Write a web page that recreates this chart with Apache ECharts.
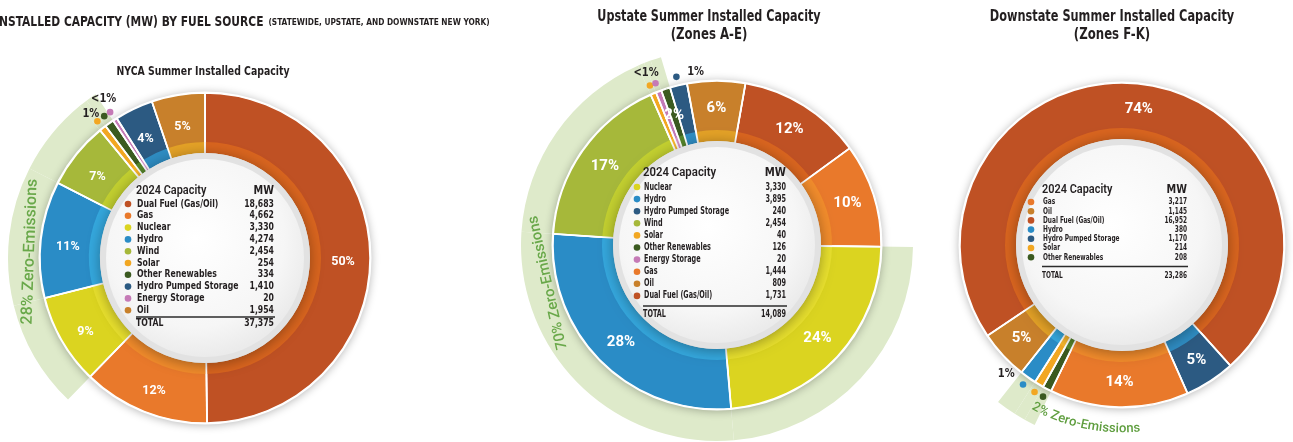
<!DOCTYPE html>
<html>
<head>
<meta charset="utf-8">
<style>
  html, body { margin: 0; padding: 0; background: #fff; }
  #main { width: 1293px; height: 442px; }
</style>
<script src="https://cdn.jsdelivr.net/npm/echarts@6/dist/echarts.min.js"></script>
</head>
<body>
<div id="main"></div>
<script>
// ---- values ----
// statewide (legend order)
const nycaFuels = ['Dual Fuel (Gas/Oil)', 'Gas', 'Nuclear', 'Hydro', 'Wind', 'Solar', 'Other Renewables', 'Hydro Pumped Storage', 'Energy Storage', 'Oil'];
const nycaMW = [18683, 4662, 3330, 4274, 2454, 254, 334, 1410, 20, 1954];
const nycaPct = ['50%', '12%', '9%', '11%', '7%', '1%', '1%', '4%', '<1%', '5%'];
// order of the slices round the ring, clockwise
const nycaRing = ['Dual Fuel (Gas/Oil)', 'Gas', 'Nuclear', 'Hydro', 'Wind', 'Solar', 'Other Renewables', 'Energy Storage', 'Hydro Pumped Storage', 'Oil'];

// upstate, zones A-E
const upFuels = ['Nuclear', 'Hydro', 'Hydro Pumped Storage', 'Wind', 'Solar', 'Other Renewables', 'Energy Storage', 'Gas', 'Oil', 'Dual Fuel (Gas/Oil)'];
const upMW = [3330, 3895, 240, 2454, 40, 126, 20, 1444, 809, 1731];
const upPct = ['24%', '28%', '1%', '17%', '<1%', '2%', '<1%', '10%', '6%', '12%'];
const upRing = ['Dual Fuel (Gas/Oil)', 'Gas', 'Nuclear', 'Hydro', 'Wind', 'Solar', 'Energy Storage', 'Other Renewables', 'Hydro Pumped Storage', 'Oil'];

// downstate, zones F-K
const downFuels = ['Gas', 'Oil', 'Dual Fuel (Gas/Oil)', 'Hydro', 'Hydro Pumped Storage', 'Solar', 'Other Renewables'];
const downMW = [3217, 1145, 16952, 380, 1170, 214, 208];
const downPct = ['14%', '5%', '74%', '1%', '5%', '', ''];
const downRing = ['Dual Fuel (Gas/Oil)', 'Hydro Pumped Storage', 'Gas', 'Other Renewables', 'Solar', 'Hydro', 'Oil'];

const zeroFuels = ['Nuclear', 'Hydro', 'Wind', 'Solar', 'Other Renewables'];
const zeroLabels = ['28% Zero-Emissions', '70% Zero-Emissions', '2% Zero-Emissions'];
const chartTitles = [
  ['NYCA Summer Installed Capacity'],
  ['Upstate Summer Installed Capacity', '(Zones A-E)'],
  ['Downstate Summer Installed Capacity', '(Zones F-K)']
];
const mainTitle = 'INSTALLED CAPACITY (MW) BY FUEL SOURCE';
const mainSubtitle = '(STATEWIDE, UPSTATE, AND DOWNSTATE NEW YORK)';

// ---- colours ----
const fuelColor = {
  'Dual Fuel (Gas/Oil)': '#bf5124',
  'Gas': '#e9792b',
  'Nuclear': '#dbd420',
  'Hydro': '#2a8cc6',
  'Wind': '#a6b83a',
  'Solar': '#f2a722',
  'Other Renewables': '#3b5a20',
  'Hydro Pumped Storage': '#2c5a82',
  'Energy Storage': '#c57ab6',
  'Oil': '#c8802b'
};
const fuelShade = {
  'Dual Fuel (Gas/Oil)': '#d9651f',
  'Gas': '#f28c2c',
  'Nuclear': '#e8e02e',
  'Hydro': '#35a8de',
  'Wind': '#c3d030',
  'Solar': '#f8b62c',
  'Other Renewables': '#56852b',
  'Hydro Pumped Storage': '#2f8dc3',
  'Energy Storage': '#d691c8',
  'Oil': '#e4a227'
};
const BAND = '#deeaca';
const INK = '#231f20';
const NARROW = '"Liberation Sans Narrow", "Arial Narrow", "DejaVu Sans Condensed", sans-serif';
const SANS = 'Roboto, "Noto Sans", sans-serif';
const COND = 0.85;

const sets = [
  {
    fuels: nycaFuels, mw: nycaMW, pct: nycaPct, ring: nycaRing,
    dots: ['Solar', 'Other Renewables', 'Energy Storage'],
    notes: [
      {fuels: ['Solar', 'Other Renewables'], place: 'above', along: -5, out: 19},
      {fuels: ['Energy Storage'], place: 'above', along: 2, out: 24}
    ],
    center: [205, 258], R: 165, r0: 105, band: 197, start: 90, minAngle: 1.5, labelSize: 12.5, labelOffset: [0, 5],
    title: {x: 203, y: [72], size: [12.5], cond: 0.83},
    table: {x: 136, dotX: 128, right: 274, headY: 191, rowY: 204, step: 11.8, lineY: 317, totalY: 323.5, head: 12, row: 10, cond: 0.86},
    zero: {frac: 0.47, off: 10, size: 16, curve: false, color: '#69a84a'}
  },
  {
    fuels: upFuels, mw: upMW, pct: upPct, ring: upRing,
    dots: ['Solar', 'Energy Storage', 'Hydro Pumped Storage'],
    notes: [
      {fuels: ['Solar', 'Energy Storage'], place: 'above', along: -2, out: 22},
      {fuels: ['Hydro Pumped Storage'], place: 'side', along: 20, out: 11}
    ],
    center: [717, 245], R: 164, r0: 104, band: 196, start: 80, minAngle: 2, labelSize: 15, labelOffset: [0, 0],
    title: {x: 709, y: [17, 35], size: [15, 15], cond: 0.83},
    table: {x: 643, dotX: 637, right: 786, headY: 173, rowY: 187, step: 12.1, lineY: 306, totalY: 314, head: 12.5, row: 10, cond: 0.72},
    zero: {frac: 0.66, off: 9, size: 15, curve: false, color: '#69a84a'}
  },
  {
    fuels: downFuels, mw: downMW, pct: downPct, ring: downRing,
    dots: ['Hydro', 'Solar', 'Other Renewables'],
    notes: [{fuels: ['Hydro'], place: 'side', along: 20, out: 11}],
    center: [1122, 245], R: 162, r0: 106, band: 200, start: -146, minAngle: 1.5, labelSize: 15, labelOffset: [0, 0],
    title: {x: 1112, y: [17, 35], size: [15, 15], cond: 0.84},
    table: {x: 1042, dotX: 1031, right: 1187, headY: 190, rowY: 202, step: 9.2, lineY: 266.5, totalY: 276, head: 12, row: 9, cond: 0.72},
    zero: {frac: 0.25, off: 22, size: 13, curve: true, color: '#5f9e3f'}
  }
];

const chart = echarts.init(document.getElementById('main'));
const fmt = n => n.toLocaleString('en-US');

const series = [];
sets.forEach((s, ci) => {
  const ringData = s.ring.map(name => {
    const i = s.fuels.indexOf(name);
    return {name: name, value: s.mw[i], pct: s.pct[i]};
  });
  const zIdx = ringData.map((d, i) => zeroFuels.indexOf(d.name) >= 0 ? i : -1).filter(i => i >= 0);
  s.z0 = Math.min.apply(null, zIdx);
  s.z1 = Math.max.apply(null, zIdx);
  const common = {
    type: 'pie', center: s.center, startAngle: s.start, minAngle: s.minAngle,
    clockwise: true, avoidLabelOverlap: false, emphasis: {disabled: true},
    labelLine: {show: false}, animation: false
  };
  // light green zero-emissions band behind the ring
  series.push(Object.assign({}, common, {
    radius: [s.R - 4, s.band], z: 1, silent: true, label: {show: false},
    data: ringData.map((d, i) => ({
      name: d.name, value: d.value,
      itemStyle: {color: (i >= s.z0 && i <= s.z1) ? BAND : 'rgba(0,0,0,0)'}
    }))
  }));
  // main ring
  series.push(Object.assign({}, common, {
    radius: [s.r0, s.R], z: 3,
    itemStyle: {borderColor: '#fff', borderWidth: 1.5},
    label: {
      show: true, position: 'inside', color: '#fff', fontSize: s.labelSize, offset: s.labelOffset,
      fontWeight: 'bold', fontFamily: SANS, formatter: p => p.data.pct
    },
    data: ringData.map(d => ({
      name: d.name, value: d.value, pct: d.pct,
      itemStyle: {color: fuelColor[d.name]},
      label: {show: s.dots.indexOf(d.name) < 0 && d.pct !== ''}
    }))
  }));
  // brighter inner edge of the ring
  series.push(Object.assign({}, common, {
    radius: [s.r0, s.r0 + 11], z: 4, silent: true, label: {show: false},
    data: ringData.map(d => ({name: d.name, value: d.value, itemStyle: {color: fuelShade[d.name]}}))
  }));
});

chart.setOption({animation: false, series: series});

// ---- decorations placed from the pie layout ----
const measure = document.createElement('canvas').getContext('2d');
const graphics = [];
const model = chart.getModel();

function polar(c, r, a) {
  return [c[0] + r * Math.cos(a), c[1] + r * Math.sin(a)];
}
function text(x, y, str, font, fill, align, valign, extra) {
  return Object.assign({
    type: 'text', x: x, y: y, z: 6, silent: true,
    style: {
      text: str, font: font, fill: fill,
      align: align || 'left', textAlign: align || 'left',
      verticalAlign: valign || 'middle', textVerticalAlign: valign || 'middle'
    }
  }, extra || {});
}

// main heading, cut at the left edge like the source
const mainFont = 'bold 14px ' + NARROW;
measure.font = mainFont;
const mainX = -measure.measureText('I').width * COND - 1;
const mainW = measure.measureText(mainTitle).width * COND;
graphics.push(text(mainX, 22, mainTitle, mainFont, INK, 'left', 'middle', {scaleX: COND}));
graphics.push(text(mainX + mainW + 5, 22.5, mainSubtitle, 'bold 8.5px ' + NARROW, INK, 'left', 'middle', {scaleX: 0.97}));

sets.forEach((s, ci) => {
  const c = s.center;
  const data = model.getSeriesByIndex(ci * 3 + 1).getData();
  const lay = name => data.getItemLayout(data.indexOfName(name));

  // chart titles
  chartTitles[ci].forEach((t, k) => {
    graphics.push(text(s.title.x, s.title.y[k], t, 'bold ' + s.title.size[k] + 'px ' + NARROW, INK, 'center', 'middle',
      {scaleX: k === 0 ? s.title.cond : 0.87}));
  });

  // soft shadow round the ring
  graphics.push({
    type: 'circle', z: 2, silent: true, shape: {cx: c[0], cy: c[1], r: s.R + 1.5},
    style: {fill: '#fff', shadowBlur: 9, shadowColor: 'rgba(0,0,0,0.28)', shadowOffsetY: 1}
  });
  // white separators across ring and inner edge
  data.each(i => {
    const L = data.getItemLayout(i);
    const p1 = polar(c, s.r0 - 1, L.startAngle);
    const p2 = polar(c, s.R + 0.5, L.startAngle);
    graphics.push({
      type: 'line', z: 4.5, silent: true,
      shape: {x1: p1[0], y1: p1[1], x2: p2[0], y2: p2[1]},
      style: {stroke: '#fff', lineWidth: 1.8}
    });
  });
  // centre disc
  graphics.push({
    type: 'circle', z: 5, silent: true, shape: {cx: c[0], cy: c[1], r: s.r0},
    style: {fill: '#e2e2e2', shadowBlur: 14, shadowColor: 'rgba(0,0,0,0.35)', shadowOffsetY: 2}
  });
  graphics.push({
    type: 'circle', z: 5, silent: true, shape: {cx: c[0], cy: c[1], r: s.r0 - 6},
    style: {
      fill: {
        type: 'radial', x: 0.45, y: 0.4, r: 0.6,
        colorStops: [{offset: 0, color: '#ffffff'}, {offset: 0.75, color: '#f6f6f6'}, {offset: 1, color: '#ebebeb'}]
      }
    }
  });

  // table inside the disc
  const t = s.table;
  const headFont = '600 ' + t.head + 'px ' + SANS;
  const rowFont = 'bold ' + t.row + 'px ' + NARROW;
  const sx = {scaleX: t.cond};
  graphics.push(text(t.x, t.headY, '2024 Capacity', headFont, INK, 'left', 'middle', {scaleX: 0.91}));
  graphics.push(text(t.right, t.headY, 'MW', 'bold ' + t.head + 'px ' + NARROW, INK, 'right', 'middle', {scaleX: 0.9}));
  s.fuels.forEach((f, i) => {
    const y = t.rowY + i * t.step;
    graphics.push({type: 'circle', z: 6, silent: true, shape: {cx: t.dotX, cy: y, r: 3.3}, style: {fill: fuelColor[f]}});
    graphics.push(text(t.x + 1, y, f, rowFont, INK, 'left', 'middle', sx));
    graphics.push(text(t.right, y, fmt(s.mw[i]), rowFont, INK, 'right', 'middle', sx));
  });
  graphics.push({
    type: 'line', z: 6, silent: true,
    shape: {x1: t.x, y1: t.lineY, x2: t.right + 1, y2: t.lineY},
    style: {stroke: '#2b2b2b', lineWidth: 1.3}
  });
  const total = s.mw.reduce((a, b) => a + b, 0);
  graphics.push(text(t.x, t.totalY, 'TOTAL', rowFont, INK, 'left', 'middle', sx));
  graphics.push(text(t.right, t.totalY, fmt(total), rowFont, INK, 'right', 'middle', sx));

  // dots beside the thin slices
  const dotR = s.R + 9;
  s.dots.forEach(f => {
    const L = lay(f);
    const p = polar(c, dotR, (L.startAngle + L.endAngle) / 2);
    graphics.push({type: 'circle', z: 6, silent: true, shape: {cx: p[0], cy: p[1], r: 3.3}, style: {fill: fuelColor[f]}});
  });
  s.notes.forEach(n => {
    const mids = n.fuels.map(f => { const L = lay(f); return (L.startAngle + L.endAngle) / 2; });
    const r = s.R + n.out;
    const a = mids.reduce((x, y) => x + y, 0) / mids.length + n.along / r;
    const str = s.pct[s.fuels.indexOf(n.fuels[0])];
    const p = polar(c, r, a);
    graphics.push(text(p[0], p[1], str, 'bold 13px ' + NARROW, INK, 'center', 'middle', {scaleX: COND}));
  });

  // zero-emissions caption
  const a0 = data.getItemLayout(s.z0).startAngle;
  const a1 = data.getItemLayout(s.z1).endAngle;
  const z = s.zero;
  const zFont = '500 ' + z.size + 'px ' + SANS;
  const rz = s.R + z.off;
  let a = a0 + (a1 - a0) * z.frac;
  if (!z.curve) {
    const p = polar(c, rz, a);
    graphics.push(text(p[0], p[1], zeroLabels[ci], zFont, z.color, 'center', 'middle', {rotation: -(a + Math.PI / 2)}));
  } else {
    measure.font = zFont;
    zeroLabels[ci].split('').forEach(ch => {
      const w = measure.measureText(ch).width;
      const am = a - (w / 2) / rz;
      const p = polar(c, rz, am);
      graphics.push(text(p[0], p[1], ch, zFont, z.color, 'center', 'middle', {rotation: Math.PI / 2 - am}));
      a -= w / rz;
    });
  }
});

chart.setOption({graphic: {elements: graphics}});
</script>
</body>
</html>
